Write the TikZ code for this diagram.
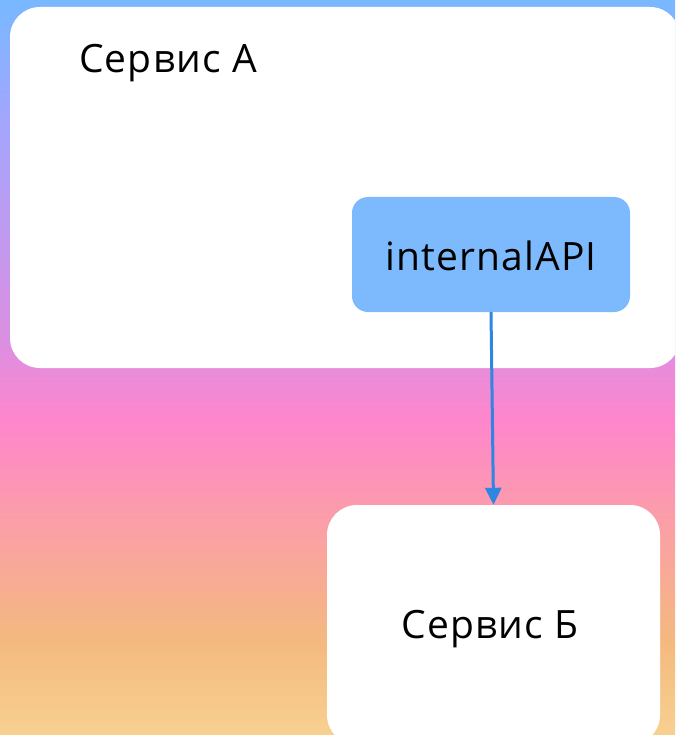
\documentclass[tikz,border=0pt]{standalone}
\usepackage{fontspec}
\setmainfont[LetterSpace=3]{Open Sans}
\usetikzlibrary{arrows.meta}
\definecolor{cTop}{HTML}{78B8FF}
\definecolor{cLav}{HTML}{A3A6FD}
\definecolor{cPur}{HTML}{DB8FE2}
\definecolor{cPink}{HTML}{FF86CC}
\definecolor{cRose}{HTML}{FB9EA8}
\definecolor{cOrange}{HTML}{F4B97F}
\definecolor{cBottom}{HTML}{F7D191}
\definecolor{apiblue}{HTML}{7CB9FD}
\definecolor{arrowblue}{HTML}{2F85E2}
\pgfdeclareverticalshading{bgshade}{100bp}{%
  color(0bp)=(cBottom);
  color(25bp)=(cBottom);
  color(31.46bp)=(cOrange);
  color(39.63bp)=(cRose);
  color(46.43bp)=(cPink);
  color(51.87bp)=(cPur);
  color(66.84bp)=(cLav);
  color(75bp)=(cTop);
  color(100bp)=(cTop)}
\tikzset{
  whitebox/.style={fill=white, rounded corners=30pt, inner sep=0pt},
  apibox/.style={fill=apiblue, rounded corners=16pt, inner sep=0pt},
  lbl/.style={font=\fontsize{39}{46}\selectfont, text=black, inner sep=0pt},
  conn/.style={draw=arrowblue, line width=3pt, -{Triangle[width=16pt,length=17pt]}}
}
\begin{document}
\begin{tikzpicture}[x=1pt,y=-1pt]
\useasboundingbox (0,0) rectangle (675,735);
\clip (0,0) rectangle (675,735);
\shade[shading=bgshade] (0,0) rectangle (675,735);
\node (A) [whitebox, minimum width=670pt, minimum height=361pt] at (345,187.5) {};
\node (Alabel) [lbl] at (168,63) {Сервис А};
\node (api) [apibox, minimum width=278pt, minimum height=115pt] at (491,254.5) {};
\node (apilabel) [lbl] at (491,256) {internalAPI};
\node (B) [whitebox, minimum width=333pt, minimum height=240pt] at (493.5,625) {};
\node (Blabel) [lbl] at (490,629) {Сервис Б};
\draw[conn] (api.south) -- (B.north);
\end{tikzpicture}
\end{document}
